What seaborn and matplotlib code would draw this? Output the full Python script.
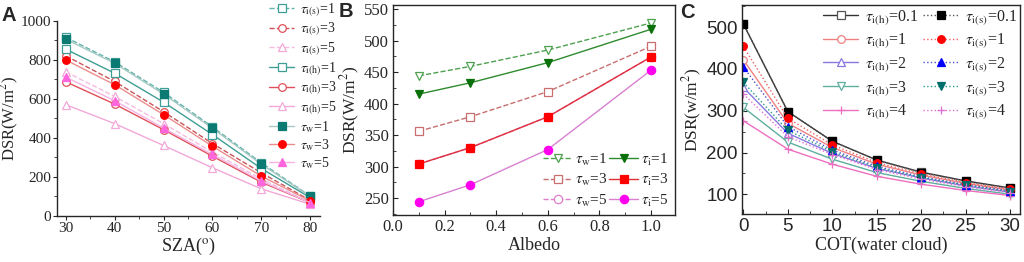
import numpy as np
import pandas as pd
import matplotlib
matplotlib.use("Agg")
import matplotlib.pyplot as plt
from matplotlib.ticker import MultipleLocator
import seaborn as sns

sns.set_style("ticks")
plt.rcParams["font.family"] = ["Liberation Serif", "DejaVu Serif"]
plt.rcParams["mathtext.fontset"] = "stix"

# ---------------- data ----------------
# Panel A: DSR vs SZA
sza = [30, 40, 50, 60, 70, 80]
a_is1 = [915, 789, 633, 456, 272, 102]
a_is3 = [820, 689, 534, 371, 221, 80]
a_is5 = [738, 612, 473, 327, 190, 68]
a_ih1 = [854, 731, 583, 417, 243, 94]
a_ih3 = [687, 573, 442, 306, 173, 68]
a_ih5 = [570, 473, 361, 247, 139, 60]
a_w1 = [905, 782, 624, 449, 265, 100]
a_w3 = [799, 672, 519, 357, 204, 77]
a_w5 = [711, 590, 450, 315, 179, 68]

# Panel B: DSR vs albedo
albedo = [0.1, 0.3, 0.6, 1.0]
b_w1 = [444, 459, 485, 528]
b_i1 = [415, 433, 465, 518]
b_w3 = [356, 379, 419, 491]
b_i3 = [304, 330, 379, 474]
b_w5 = [304, 330, 379, 474]
b_i5 = [244, 271, 327, 453]

# Panel C: DSR vs COT(water cloud)
cot = [0, 5, 10, 15, 20, 25, 30]
c_h01 = [508, 298, 227, 182, 153, 132, 115]
c_h1 = [422, 270, 212, 172, 146, 126, 110]
c_h2 = [356, 246, 198, 162, 139, 120, 105]
c_h3 = [308, 225, 184, 152, 131, 114, 100]
c_h4 = [276, 208, 172, 143, 124, 109, 97]
c_s01 = [508, 298, 227, 182, 152, 131, 114]
c_s1 = [454, 282, 218, 176, 149, 128, 112]
c_s2 = [405, 262, 206, 167, 142, 123, 108]
c_s3 = [368, 253, 202, 164, 140, 122, 106]
c_s4 = [340, 238, 195, 159, 136, 118, 104]

fig = plt.figure(figsize=(10.24, 2.62), dpi=100)
axA = fig.add_axes([57 / 1024, 1 - 216 / 262, (320 - 57) / 1024, (216 - 20.7) / 262])
axB = fig.add_axes([393 / 1024, 1 - 215 / 262, (675 - 393) / 1024, (215 - 4.7) / 262])
axC = fig.add_axes([742 / 1024, 1 - 214.3 / 262, (1020 - 742) / 1024, (214.3 - 4.7) / 262])


def draw(ax, x, y, color, marker, ls, mfc, mec=None, lw=1.0, ms=6, label=None):
    sns.lineplot(x=x, y=y, ax=ax, color=color, marker=marker, linestyle=ls,
                 markerfacecolor=mfc, markeredgecolor=mec if mec else color,
                 markeredgewidth=0.9, linewidth=lw, markersize=ms, label=label,
                 legend=False)


def tick_font(ax, family, size):
    for t in ax.get_xticklabels() + ax.get_yticklabels():
        t.set_fontfamily(family)
        t.set_fontsize(size)


# ---------------- panel A ----------------
teal, teal_d = "#3f9e95", "#0b7a72"
red, red_b = "#e0505a", "#ff0000"
pink, pink_b = "#f2a8d8", "#ff66dd"
A = [
    (a_is1, "#5fb3aa", "s", "--", "white", teal, r"$\tau_{\mathrm{i(s)}}$=1"),
    (a_is3, "#c8555a", "o", "--", "white", red, r"$\tau_{\mathrm{i(s)}}$=3"),
    (a_is5, "#f4bde0", "^", "--", "white", pink, r"$\tau_{\mathrm{i(s)}}$=5"),
    (a_ih1, teal, "s", "-", "white", teal, r"$\tau_{\mathrm{i(h)}}$=1"),
    (a_ih3, red, "o", "-", "white", red, r"$\tau_{\mathrm{i(h)}}$=3"),
    (a_ih5, pink, "^", "-", "white", pink, r"$\tau_{\mathrm{i(h)}}$=5"),
    (a_w1, "#a9c9c5", "s", "-", teal_d, teal_d, r"$\tau_{\mathrm{w}}$=1"),
    (a_w3, "#ec8c8c", "o", "-", red_b, red_b, r"$\tau_{\mathrm{w}}$=3"),
    (a_w5, "#f6b4e4", "^", "-", pink_b, pink_b, r"$\tau_{\mathrm{w}}$=5"),
]
for y, c, m, ls, mfc, mec, lab in A:
    draw(axA, sza, y, c, m, ls, mfc, mec, ms=5.5, label=lab)
axA.set_xlim(28.2, 82)
axA.set_ylim(0, 1000)
axA.xaxis.set_major_locator(MultipleLocator(10))
axA.xaxis.set_minor_locator(MultipleLocator(5))
axA.yaxis.set_major_locator(MultipleLocator(200))
axA.yaxis.set_minor_locator(MultipleLocator(100))
axA.tick_params(which="both", direction="out", pad=1)
axA.tick_params(which="major", length=3)
axA.tick_params(which="minor", length=2)
sns.despine(ax=axA)
axA.set_xlabel(r"SZA($^{\mathrm{o}}$)", fontsize=13, labelpad=1)
axA.set_ylabel(r"DSR(W/m$^{2}$)", fontsize=12, labelpad=0)
tick_font(axA, "Liberation Serif", 11)
h, l = axA.get_legend_handles_labels()
fig.legend(h, l, loc="upper left", bbox_to_anchor=(265 / 1024, 1.012), frameon=False,
           fontsize=10, handlelength=1.8, handletextpad=0.4, labelspacing=0.155,
           borderpad=0.1, borderaxespad=0.2)

# ---------------- panel B ----------------
B = [
    (b_w1, "#4fa04f", "v", "--", "white", "#4fa04f", r"$\tau_{\mathrm{w}}$=1"),
    (b_w3, "#c86e6e", "s", "--", "white", "#c86e6e", r"$\tau_{\mathrm{w}}$=3"),
    (b_w5, "#e07ccc", "o", "--", "white", "#e07ccc", r"$\tau_{\mathrm{w}}$=5"),
    (b_i1, "#2e8b2e", "v", "-", "#0a700a", "#0a700a", r"$\tau_{\mathrm{i}}$=1"),
    (b_i3, "#e0303c", "s", "-", "#ff0000", "#ff0000", r"$\tau_{\mathrm{i}}$=3"),
    (b_i5, "#d880d0", "o", "-", "#ff00ee", "#ff00ee", r"$\tau_{\mathrm{i}}$=5"),
]
for y, c, m, ls, mfc, mec, lab in B:
    draw(axB, albedo, y, c, m, ls, mfc, mec, label=lab)
axB.set_xlim(0, 1.093)
axB.set_ylim(223, 557)
axB.xaxis.set_major_locator(MultipleLocator(0.2))
axB.xaxis.set_minor_locator(MultipleLocator(0.1))
axB.yaxis.set_major_locator(MultipleLocator(50))
axB.yaxis.set_minor_locator(MultipleLocator(25))
axB.tick_params(which="both", direction="in", pad=3)
axB.tick_params(which="major", length=3.5)
axB.tick_params(which="minor", length=2)
axB.set_xlabel("Albedo", fontsize=13, labelpad=1)
axB.set_ylabel(r"DSR(W/m$^{2}$)", fontsize=12.5, labelpad=1)
tick_font(axB, "Liberation Serif", 12)
h, l = axB.get_legend_handles_labels()
axB.legend(h, l, ncol=2, loc="lower right", bbox_to_anchor=(1.0, 0.0), frameon=False,
           fontsize=11, handlelength=1.9, handletextpad=0.2, columnspacing=0.1,
           labelspacing=0.3, borderpad=0.2, borderaxespad=0.2)

# ---------------- panel C ----------------
C = [
    (c_h01, "#333333", "s", "-", "white", "#555555", r"$\tau_{\mathrm{i(h)}}$=0.1"),
    (c_h1, "#f08080", "o", "-", "white", "#f08080", r"$\tau_{\mathrm{i(h)}}$=1"),
    (c_h2, "#8a78e0", "^", "-", "white", "#8a78e0", r"$\tau_{\mathrm{i(h)}}$=2"),
    (c_h3, "#5fae9e", "v", "-", "white", "#5fae9e", r"$\tau_{\mathrm{i(h)}}$=3"),
    (c_h4, "#ee6ec0", "+", "-", "none", "#ee6ec0", r"$\tau_{\mathrm{i(h)}}$=4"),
    (c_s01, "#555555", "s", ":", "black", "black", r"$\tau_{\mathrm{i(s)}}$=0.1"),
    (c_s1, "#f06060", "o", ":", "#ff0000", "#ff0000", r"$\tau_{\mathrm{i(s)}}$=1"),
    (c_s2, "#5050d0", "^", ":", "#0000ff", "#0000ff", r"$\tau_{\mathrm{i(s)}}$=2"),
    (c_s3, "#2a9a8a", "v", ":", "#006e6a", "#006e6a", r"$\tau_{\mathrm{i(s)}}$=3"),
    (c_s4, "#e070d0", "+", ":", "none", "#e070d0", r"$\tau_{\mathrm{i(s)}}$=4"),
]
for y, c, m, ls, mfc, mec, lab in C:
    draw(axC, cot, y, c, m, ls, mfc, mec, ms=5.5, label=lab)
axC.set_xlim(-0.15, 31.1)
axC.set_ylim(52, 554)
axC.xaxis.set_major_locator(MultipleLocator(5))
axC.xaxis.set_minor_locator(MultipleLocator(2.5))
axC.yaxis.set_major_locator(MultipleLocator(100))
axC.yaxis.set_minor_locator(MultipleLocator(50))
axC.tick_params(which="both", direction="in", pad=3)
axC.tick_params(which="major", length=3.5)
axC.tick_params(which="minor", length=2)
axC.set_xlabel("COT(water cloud)", fontsize=13, labelpad=1)
axC.set_ylabel(r"DSR(w/m$^{2}$)", fontsize=12.5, labelpad=2)
tick_font(axC, "Liberation Sans", 13.5)
h, l = axC.get_legend_handles_labels()
axC.legend(h, l, ncol=2, loc="upper right", bbox_to_anchor=(1.0, 1.0), frameon=False,
           fontsize=11.5, handlelength=2.2, handletextpad=0.4, columnspacing=0.3,
           labelspacing=0.3, borderpad=0.1, borderaxespad=0.1)

for ax in (axA, axB, axC):
    for s in ax.spines.values():
        s.set_linewidth(1.0)

# panel letters
for x, y, t in [(2 / 1024, 1 - 21 / 262, "A"), (339 / 1024, 1 - 17 / 262, "B"),
                (680 / 1024, 1 - 18 / 262, "C")]:
    fig.text(x, y, t, fontsize=14.5, fontweight="bold", family="Liberation Sans")

fig.savefig("out.png", dpi=100)
